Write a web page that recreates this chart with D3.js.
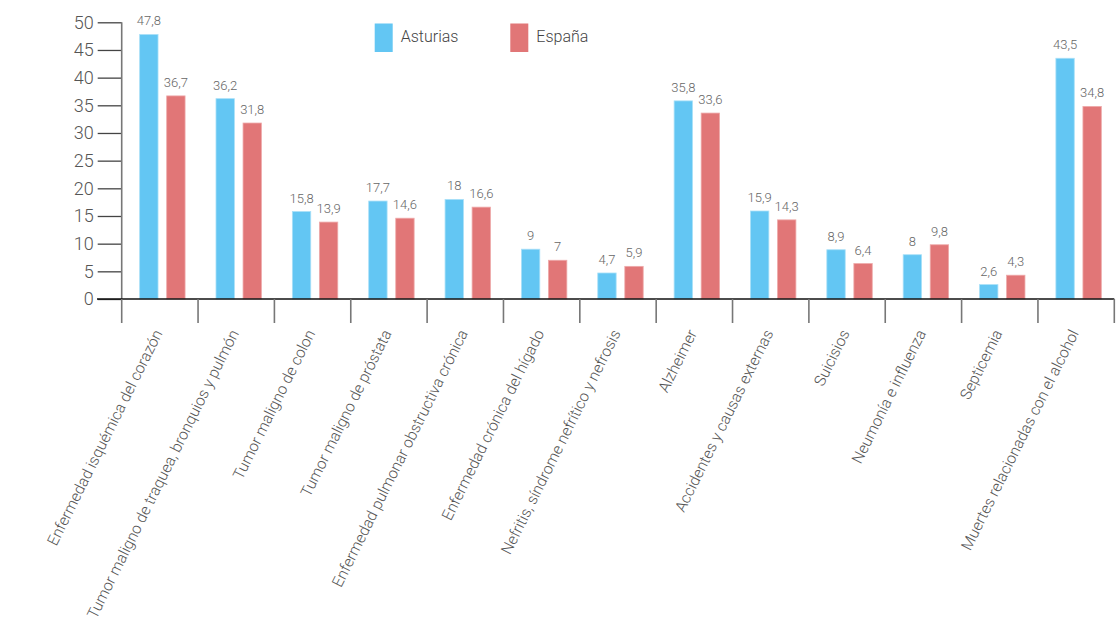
<!DOCTYPE html>
<html>
<head>
<meta charset="utf-8">
<script src="https://cdn.jsdelivr.net/npm/d3@7"></script>
<style>
  html, body { margin: 0; padding: 0; background: #fff; }
  svg { display: block; font-family: Roboto, "Noto Sans", sans-serif; font-weight: 300; }
</style>
</head>
<body>
<svg id="chart" width="1116" height="627"></svg>
<script>
// Causes of death
const categories = [
  "Enfermedad isquémica del corazón",
  "Tumor maligno de traquea, bronquios y pulmón",
  "Tumor maligno de colon",
  "Tumor maligno de próstata",
  "Enfermedad pulmonar obstructiva crónica",
  "Enfermedad crónica del hígado",
  "Nefritis, síndrome nefrítico y nefrosis",
  "Alzheimer",
  "Accidentes y causas externas",
  "Suicisios",
  "Neumonía e influenza",
  "Septicemia",
  "Muertes relacionadas con el alcohol"
];
const seriesNames = ["Asturias", "España"];
const asturias = [47.8, 36.2, 15.8, 17.7, 18, 9, 4.7, 35.8, 15.9, 8.9, 8, 2.6, 43.5];
const espana   = [36.7, 31.8, 13.9, 14.6, 16.6, 7, 5.9, 33.6, 14.3, 6.4, 9.8, 4.3, 34.8];
const yTicks = [0, 5, 10, 15, 20, 25, 30, 35, 40, 45, 50];

const colors = ["#63c6f3", "#e17677"];
const edge = ["#a9e0f8", "#eeaaaa"];

const svg = d3.select("#chart");
const plotLeft = 121.7, plotRight = 1114.3, plotTop = 22.3, plotBottom = 299;

const x = d3.scaleBand().domain(categories).range([plotLeft, plotRight]).padding(0);
const y = d3.scaleLinear().domain([0, 50]).range([plotBottom, plotTop]);
const bw = x.bandwidth();
const inner = d3.scaleBand().domain(seriesNames)
  .range([bw * 0.235, bw * 0.83]).paddingInner(0.32).paddingOuter(0);

const fmt = v => String(v).replace(".", ",");

// y axis: ticks and labels
const yAxis = svg.append("g").attr("transform", `translate(${plotLeft},0)`)
  .call(d3.axisLeft(y).tickValues(yTicks).tickSize(24).tickPadding(4));
yAxis.select(".domain").remove();
yAxis.selectAll(".tick line").attr("stroke", "#444").attr("stroke-width", 1.3);
yAxis.selectAll(".tick text").attr("font-size", 18).attr("fill", "#555")
  .attr("font-family", "Roboto, sans-serif").attr("font-weight", 300);
svg.append("line").attr("x1", plotLeft).attr("x2", plotLeft)
  .attr("y1", plotTop).attr("y2", plotBottom).attr("stroke", "#777").attr("stroke-width", 1.6);

// bars
const groups = svg.append("g").selectAll("g").data(categories).join("g")
  .attr("transform", d => `translate(${x(d)},0)`);
[asturias, espana].forEach((vals, si) => {
  groups.append("rect")
    .attr("x", inner(seriesNames[si]))
    .attr("width", inner.bandwidth())
    .attr("y", (d, i) => y(vals[i]))
    .attr("height", (d, i) => y(0) - y(vals[i]))
    .attr("fill", colors[si])
    .attr("stroke", edge[si]).attr("stroke-width", 0.8);
  groups.append("text")
    .attr("x", inner(seriesNames[si]) + inner.bandwidth() / 2)
    .attr("y", (d, i) => y(vals[i]) - 9)
    .attr("text-anchor", "middle")
    .attr("font-size", 13).attr("fill", "#666")
    .text((d, i) => fmt(vals[i]));
});

// x axis baseline and category separators
svg.append("line").attr("x1", 97).attr("x2", plotRight)
  .attr("y1", plotBottom).attr("y2", plotBottom).attr("stroke", "#111").attr("stroke-width", 1.3);
const seps = categories.map(c => x(c)).concat([plotRight]);
svg.append("g").selectAll("line").data(seps).join("line")
  .attr("x1", d => d).attr("x2", d => d)
  .attr("y1", plotBottom).attr("y2", 323)
  .attr("stroke", "#777").attr("stroke-width", 1.6);

// rotated category labels
svg.append("g").selectAll("text").data(categories).join("text")
  .attr("transform", d => `translate(${x(d) + bw / 2 + 3},${333}) rotate(-63.5)`)
  .attr("text-anchor", "end")
  .attr("font-size", 15.5).attr("fill", "#555")
  .text(d => d);

// legend
const legend = svg.append("g");
const legendX = [374.7, 510.3];
seriesNames.forEach((name, i) => {
  legend.append("rect").attr("x", legendX[i]).attr("y", 23.5)
    .attr("width", 18).attr("height", 28.5).attr("fill", colors[i]);
  legend.append("text").attr("x", legendX[i] + 26).attr("y", 42)
    .attr("font-size", 16).attr("fill", "#444").text(name);
});
</script>
</body>
</html>
